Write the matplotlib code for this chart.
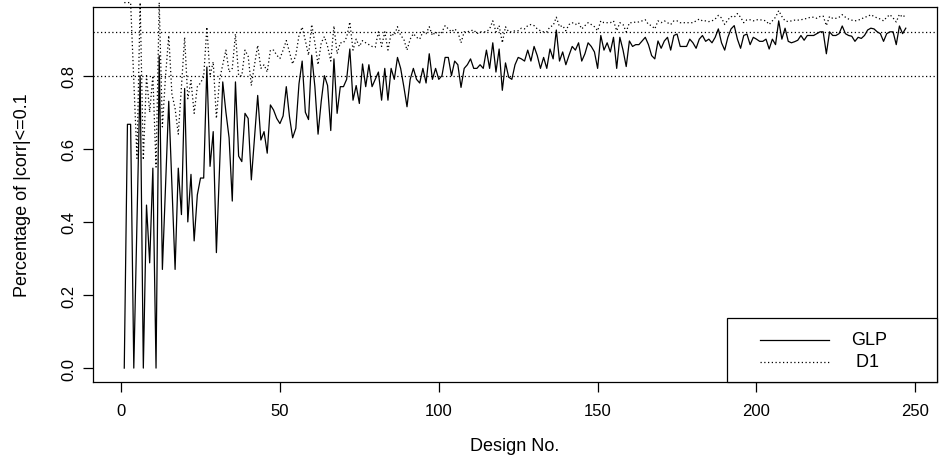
import matplotlib
matplotlib.use("Agg")
import matplotlib.pyplot as plt
from matplotlib.patches import Rectangle
import numpy as np

plt.rcParams['font.family'] = ['Liberation Sans', 'DejaVu Sans']

# percentage of |corr|<=0.1 for each design
glp = [0, 0.667, 0.667, 0, 0.40, 0.80, 0, 0.446, 0.288, 0.547,
       0, 0.855, 0.27, 0.50, 0.73, 0.50, 0.27, 0.547, 0.42, 0.765,
       0.40, 0.53, 0.348, 0.474, 0.52, 0.52, 0.824, 0.552, 0.647, 0.316,
       0.55, 0.783, 0.70, 0.63, 0.457, 0.783, 0.58, 0.565, 0.697, 0.683,
       0.515, 0.63, 0.746, 0.624, 0.647, 0.588, 0.72, 0.706, 0.683, 0.669,
       0.69, 0.77, 0.688, 0.63, 0.656, 0.778, 0.84, 0.70, 0.68, 0.856,
       0.77, 0.64, 0.73, 0.80, 0.773, 0.65, 0.846, 0.697, 0.77, 0.77,
       0.79, 0.873, 0.733, 0.773, 0.724, 0.832, 0.77, 0.83, 0.77, 0.79,
       0.81, 0.733, 0.82, 0.733, 0.82, 0.79, 0.85, 0.82, 0.77, 0.715,
       0.79, 0.82, 0.79, 0.78, 0.82, 0.78, 0.86, 0.79, 0.82, 0.79,
       0.80, 0.85, 0.85, 0.80, 0.84, 0.83, 0.768, 0.82, 0.83, 0.846,
       0.82, 0.82, 0.83, 0.82, 0.87, 0.82, 0.89, 0.81, 0.873, 0.76,
       0.835, 0.796, 0.79, 0.83, 0.85, 0.846, 0.84, 0.87, 0.84, 0.88,
       0.855, 0.82, 0.85, 0.82, 0.873, 0.846, 0.925, 0.84, 0.865, 0.83,
       0.856, 0.88, 0.87, 0.89, 0.84, 0.86, 0.89, 0.88, 0.865, 0.82,
       0.91, 0.87, 0.89, 0.865, 0.905, 0.82, 0.905, 0.87, 0.825, 0.895,
       0.88, 0.885, 0.885, 0.895, 0.905, 0.885, 0.855, 0.846, 0.895, 0.875,
       0.895, 0.905, 0.87, 0.91, 0.914, 0.88, 0.88, 0.88, 0.90, 0.89,
       0.875, 0.90, 0.91, 0.894, 0.90, 0.89, 0.905, 0.928, 0.89, 0.87,
       0.905, 0.928, 0.937, 0.90, 0.875, 0.91, 0.914, 0.885, 0.905, 0.90,
       0.894, 0.894, 0.90, 0.873, 0.90, 0.885, 0.95, 0.90, 0.93, 0.894,
       0.89, 0.893, 0.897, 0.91, 0.897, 0.91, 0.91, 0.91, 0.915, 0.92,
       0.92, 0.86, 0.92, 0.91, 0.91, 0.915, 0.936, 0.915, 0.91, 0.908,
       0.894, 0.905, 0.902, 0.91, 0.925, 0.93, 0.928, 0.92, 0.915, 0.894,
       0.915, 0.92, 0.92, 0.885, 0.936, 0.915, 0.93]

d1 = [1.0, 1.0, 1.0, 0.79, 0.574, 1.0, 0.57, 0.8, 0.7, 0.8,
      0.55, 1.0, 0.66, 0.8, 0.91, 0.75, 0.71, 0.64, 0.77, 0.905,
      0.737, 0.787, 0.697, 0.77, 0.78, 0.797, 0.933, 0.80, 0.838, 0.683,
      0.79, 0.83, 0.87, 0.81, 0.82, 0.914, 0.80, 0.80, 0.87, 0.853,
      0.773, 0.83, 0.883, 0.82, 0.83, 0.81, 0.87, 0.87, 0.856, 0.847,
      0.87, 0.896, 0.865, 0.832, 0.856, 0.91, 0.933, 0.896, 0.856, 0.94,
      0.89, 0.83, 0.89, 0.907, 0.88, 0.84, 0.936, 0.86, 0.89, 0.89,
      0.905, 0.947, 0.87, 0.90, 0.88, 0.896, 0.89, 0.885, 0.88, 0.878,
      0.92, 0.88, 0.92, 0.87, 0.915, 0.91, 0.934, 0.91, 0.90, 0.87,
      0.90, 0.915, 0.905, 0.90, 0.92, 0.915, 0.934, 0.91, 0.92, 0.91,
      0.92, 0.937, 0.928, 0.92, 0.928, 0.92, 0.89, 0.92, 0.92, 0.923,
      0.925, 0.915, 0.92, 0.92, 0.92, 0.928, 0.95, 0.92, 0.937, 0.89,
      0.934, 0.92, 0.92, 0.923, 0.923, 0.93, 0.928, 0.937, 0.94, 0.937,
      0.928, 0.923, 0.92, 0.92, 0.934, 0.937, 0.96, 0.934, 0.937, 0.923,
      0.94, 0.945, 0.94, 0.945, 0.928, 0.937, 0.945, 0.94, 0.934, 0.923,
      0.95, 0.945, 0.945, 0.945, 0.95, 0.923, 0.945, 0.94, 0.92, 0.945,
      0.945, 0.947, 0.947, 0.95, 0.953, 0.94, 0.937, 0.928, 0.95, 0.945,
      0.95, 0.945, 0.94, 0.95, 0.95, 0.945, 0.945, 0.945, 0.945, 0.945,
      0.95, 0.955, 0.95, 0.95, 0.948, 0.95, 0.955, 0.965, 0.958, 0.94,
      0.953, 0.962, 0.96, 0.97, 0.96, 0.945, 0.953, 0.953, 0.95, 0.953,
      0.953, 0.952, 0.95, 0.94, 0.95, 0.96, 0.978, 0.962, 0.95, 0.948,
      0.95, 0.952, 0.952, 0.953, 0.955, 0.957, 0.96, 0.96, 0.957, 0.962,
      0.963, 0.937, 0.962, 0.957, 0.957, 0.96, 0.967, 0.96, 0.955, 0.952,
      0.95, 0.952, 0.955, 0.96, 0.962, 0.967, 0.962, 0.958, 0.955, 0.95,
      0.96, 0.967, 0.958, 0.947, 0.968, 0.96, 0.967]

ref_lines = [0.92, 0.80]
x_ticks = [0, 50, 100, 150, 200, 250]
y_ticks = [0.0, 0.2, 0.4, 0.6, 0.8]
labels = ['GLP', ' D1']

design = np.arange(1, len(glp) + 1)

fig = plt.figure(figsize=(9.49, 4.64), dpi=100)
ax = fig.add_axes([0.098, 0.1746, 0.8894, 0.8082])

dot = (0, (1, 2))
ax.plot(design, glp, color='black', lw=0.9)
ax.plot(design, d1, color='black', lw=0.9, linestyle=dot, clip_on=False)
for h in ref_lines:
    ax.axhline(h, color='black', lw=0.9, linestyle=dot)

# R style axis ranges (4% padding)
n = len(glp)
pad = (n - 1) * 0.04
ax.set_xlim(1 - pad, n + pad)
ylo, yhi = min(glp), max(glp)
ypad = (yhi - ylo) * 0.04
ax.set_ylim(ylo - ypad, yhi + ypad)

ax.set_xticks(x_ticks)
ax.set_xticklabels([str(t) for t in x_ticks])
ax.set_yticks(y_ticks)
ax.set_yticklabels(['%.1f' % t for t in y_ticks], rotation=90, va='center')
ax.tick_params(direction='out', length=7, width=0.9, labelsize=12, pad=8)
ax.tick_params(axis='y', pad=5)
for s in ax.spines.values():
    s.set_linewidth(0.9)

ax.set_xlabel('Design No.', fontsize=13, labelpad=14)
ax.set_ylabel('Percentage of |corr|<=0.1', fontsize=13, labelpad=22)

# legend box drawn the way R places it (bottom right, wide padding)
tr = ax.transAxes
ax.add_patch(Rectangle((0.7512, 0.0), 0.2488, 0.1707, transform=tr,
                       facecolor='white', edgecolor='black', lw=0.9,
                       zorder=5, clip_on=False))
for yy, ls, lab in zip([0.112, 0.0533], ['-', dot], labels):
    ax.plot([0.7903, 0.872], [yy, yy], transform=tr, color='black', lw=0.9,
            linestyle=ls, zorder=6)
    ax.text(0.898, yy, lab, transform=tr, fontsize=13, va='center',
            ha='left', zorder=6)

plt.savefig('out.png', dpi=100)
